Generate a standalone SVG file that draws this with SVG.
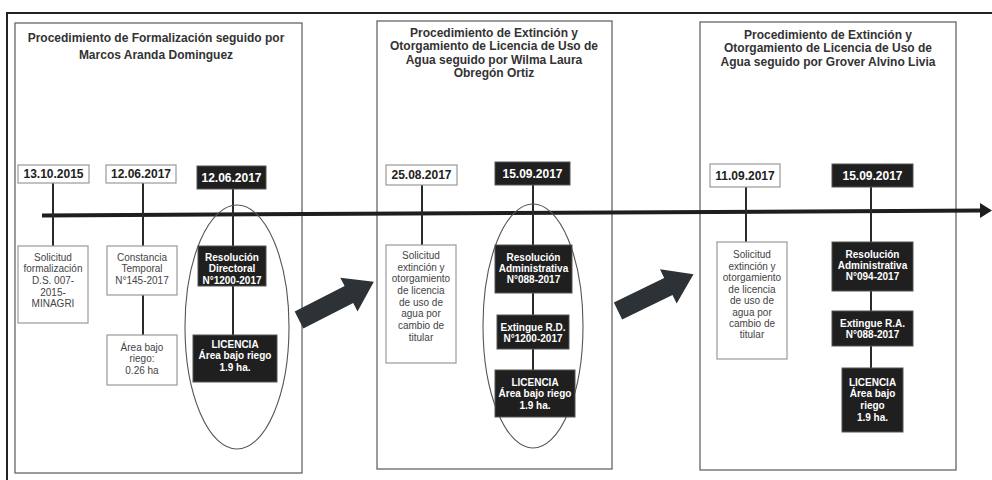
<svg xmlns="http://www.w3.org/2000/svg" width="992" height="480" viewBox="0 0 992 480">
<style>
.bg{fill:#fff}
.frame{fill:none;stroke:#222;stroke-width:2}
.panel{fill:#fff;stroke:#666;stroke-width:1.3}
.title{font-family:"Liberation Sans",Arial,sans-serif;font-size:12px;font-weight:bold;fill:#333;text-anchor:middle}
.wbox{fill:#fff;stroke:#999;stroke-width:1.2}
.bbox{fill:#1f1f1f;stroke:#555;stroke-width:1}
.t{font-family:"Liberation Sans Narrow","Liberation Sans",Arial,sans-serif;font-size:10px;fill:#444;text-anchor:middle}
.tb{font-family:"Liberation Sans Narrow","Liberation Sans",Arial,sans-serif;font-size:10px;font-weight:bold;fill:#fff;text-anchor:middle}
.d{font-family:"Liberation Sans Narrow","Liberation Sans",Arial,sans-serif;font-size:12px;font-weight:bold;fill:#222;text-anchor:middle}
.dw{font-family:"Liberation Sans Narrow","Liberation Sans",Arial,sans-serif;font-size:12px;font-weight:bold;fill:#fff;text-anchor:middle}
.conn{stroke:#2a2a2a;stroke-width:2;fill:none}
.axis{stroke:#1e1e1e;stroke-width:4;fill:none}
.ell{fill:none;stroke:#555;stroke-width:1.1}
.barrow{fill:#2c3236}
</style>
<rect class="bg" x="0" y="0" width="992" height="480"/>
<path class="frame" d="M7,480 V13 H992"/>

<g id="panels">
  <g id="panel-left">
    <rect class="panel" x="15" y="23" width="287" height="450"/>
    <text class="title" x="156" y="42">Procedimiento de Formalización seguido por</text>
    <text class="title" x="156" y="59">Marcos Aranda Dominguez</text>
  </g>
  <g id="panel-middle">
    <rect class="panel" x="377" y="21" width="235" height="448"/>
    <text class="title" x="494" y="36.5">Procedimiento de Extinción y</text>
    <text class="title" x="494" y="50">Otorgamiento de Licencia de Uso de</text>
    <text class="title" x="494" y="63.5">Agua seguido por Wilma Laura</text>
    <text class="title" x="494" y="77">Obregón Ortiz</text>
  </g>
  <g id="panel-right">
    <rect class="panel" x="700" y="22" width="256" height="448"/>
    <text class="title" x="828" y="38.5">Procedimiento de Extinción y</text>
    <text class="title" x="828" y="52">Otorgamiento de Licencia de Uso de</text>
    <text class="title" x="828" y="65.5">Agua seguido por Grover Alvino Livia</text>
  </g>
</g>

<g id="connectors">
  <path class="axis" d="M42,215.5 L983,210.5"/>
  <polygon points="980,203 992,210.5 980,218" fill="#1e1e1e"/>
  <path class="conn" d="M53,183 V246 M143,183 V246 M143,295 V335 M233,189 V246 M233,286 V335"/>
  <path class="conn" d="M422,185 V245 M533,185 V245 M533,293 V315 M533,349 V370"/>
  <path class="conn" d="M746,187 V242 M871,187 V242 M871,291 V311 M871,346 V368"/>
  <polygon class="barrow" transform="translate(299,320) rotate(-27)" points="0,-9.5 56,-9.5 56,-19 84,0 56,19 56,9.5 0,9.5"/>
  <polygon class="barrow" transform="translate(618,311) rotate(-26)" points="0,-9.5 56,-9.5 56,-19 84,0 56,19 56,9.5 0,9.5"/>
</g>

<g id="highlights">
  <ellipse class="ell" cx="237" cy="327" rx="52" ry="122"/>
  <ellipse class="ell" cx="533" cy="326" rx="50" ry="122"/>
</g>

<g id="L-date1"><rect class="wbox" x="18" y="165" width="71" height="18"/><text class="d" x="53.5" y="178.2">13.10.2015</text></g>
<g id="L-date2"><rect class="wbox" x="106" y="165" width="70" height="18"/><text class="d" x="141" y="178.2">12.06.2017</text></g>
<g id="L-date3"><rect class="bbox" x="197" y="166" width="69" height="23"/><text class="dw" x="231.5" y="181.7">12.06.2017</text></g>
<g id="L-solicitud"><rect class="wbox" x="18" y="246" width="70" height="77"/>
  <text class="t" x="53" y="260.5">Solicitud</text>
  <text class="t" x="53" y="271.5">formalización</text>
  <text class="t" x="53" y="283.5">D.S. 007-</text>
  <text class="t" x="53" y="295.5">2015-</text>
  <text class="t" x="53" y="306.5">MINAGRI</text>
</g>
<g id="L-constancia"><rect class="wbox" x="107" y="246" width="70" height="49"/>
  <text class="t" x="142" y="260.5">Constancia</text>
  <text class="t" x="142" y="271.5">Temporal</text>
  <text class="t" x="142" y="283.5">N°145-2017</text>
</g>
<g id="L-area"><rect class="wbox" x="107" y="335" width="70" height="50"/>
  <text class="t" x="142" y="350.5">Área bajo</text>
  <text class="t" x="142" y="361.5">riego:</text>
  <text class="t" x="142" y="373.5">0.26 ha</text>
</g>
<g id="L-resolucion"><rect class="bbox" x="198" y="246" width="68" height="40"/>
  <text class="tb" x="232" y="260.5">Resolución</text>
  <text class="tb" x="232" y="271.5">Directoral</text>
  <text class="tb" x="232" y="283.5">N°1200-2017</text>
</g>
<g id="L-licencia"><rect class="bbox" x="193" y="335" width="84" height="47"/>
  <text class="tb" x="235" y="347.5">LICENCIA</text>
  <text class="tb" x="235" y="358.5">Área bajo riego</text>
  <text class="tb" x="235" y="370.5">1.9 ha.</text>
</g>

<g id="M-date1"><rect class="wbox" x="386" y="165" width="71" height="20"/><text class="d" x="421.5" y="179.2">25.08.2017</text></g>
<g id="M-date2"><rect class="bbox" x="495" y="162" width="75" height="23"/><text class="dw" x="532.5" y="177.7">15.09.2017</text></g>
<g id="M-solicitud"><rect class="wbox" x="386" y="245" width="70" height="118"/>
  <text class="t" x="421" y="258.5">Solicitud</text>
  <text class="t" x="421" y="270.5">extinción y</text>
  <text class="t" x="421" y="281.5">otorgamiento</text>
  <text class="t" x="421" y="293.5">de licencia</text>
  <text class="t" x="421" y="305.5">de uso de</text>
  <text class="t" x="421" y="316.5">agua por</text>
  <text class="t" x="421" y="328.5">cambio de</text>
  <text class="t" x="421" y="340.5">titular</text>
</g>
<g id="M-resolucion"><rect class="bbox" x="495" y="245" width="77" height="48"/>
  <text class="tb" x="533.5" y="260.5">Resolución</text>
  <text class="tb" x="533.5" y="271.5">Administrativa</text>
  <text class="tb" x="533.5" y="282.5">N°088-2017</text>
</g>
<g id="M-extingue"><rect class="bbox" x="497" y="315" width="72" height="34"/>
  <text class="tb" x="533" y="330.5">Extingue R.D.</text>
  <text class="tb" x="533" y="342">N°1200-2017</text>
</g>
<g id="M-licencia"><rect class="bbox" x="495" y="370" width="80" height="47"/>
  <text class="tb" x="535" y="385.5">LICENCIA</text>
  <text class="tb" x="535" y="396.5">Área bajo riego</text>
  <text class="tb" x="535" y="408.5">1.9 ha.</text>
</g>

<g id="R-date1"><rect class="wbox" x="710" y="164" width="70" height="23"/><text class="d" x="745" y="179.7">11.09.2017</text></g>
<g id="R-date2"><rect class="bbox" x="832" y="164" width="81" height="23"/><text class="dw" x="872.5" y="179.7">15.09.2017</text></g>
<g id="R-solicitud"><rect class="wbox" x="717" y="242" width="70" height="117"/>
  <text class="t" x="752" y="257.5">Solicitud</text>
  <text class="t" x="752" y="269.5">extinción y</text>
  <text class="t" x="752" y="280.5">otorgamiento</text>
  <text class="t" x="752" y="292.5">de licencia</text>
  <text class="t" x="752" y="303.5">de uso de</text>
  <text class="t" x="752" y="315.5">agua por</text>
  <text class="t" x="752" y="326.5">cambio de</text>
  <text class="t" x="752" y="337.5">titular</text>
</g>
<g id="R-resolucion"><rect class="bbox" x="832" y="242" width="81" height="49"/>
  <text class="tb" x="872.5" y="257.5">Resolución</text>
  <text class="tb" x="872.5" y="268.5">Administrativa</text>
  <text class="tb" x="872.5" y="280">N°094-2017</text>
</g>
<g id="R-extingue"><rect class="bbox" x="832" y="311" width="81" height="35"/>
  <text class="tb" x="872.5" y="326.5">Extingue R.A.</text>
  <text class="tb" x="872.5" y="337.5">N°088-2017</text>
</g>
<g id="R-licencia"><rect class="bbox" x="842" y="368" width="61" height="64"/>
  <text class="tb" x="872.5" y="385.5">LICENCIA</text>
  <text class="tb" x="872.5" y="396.5">Área bajo</text>
  <text class="tb" x="872.5" y="408.5">riego</text>
  <text class="tb" x="872.5" y="420.5">1.9 ha.</text>
</g>
</svg>
